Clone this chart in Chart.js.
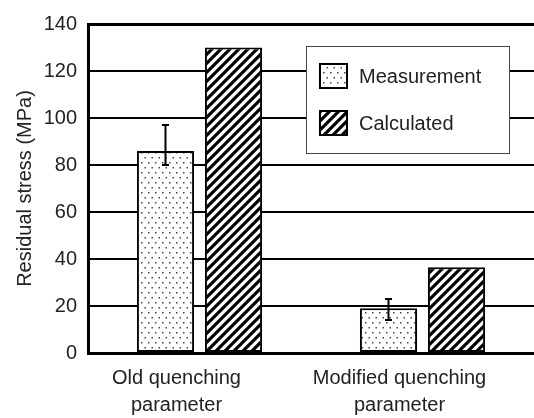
<!DOCTYPE html>
<html>
<head>
<meta charset="utf-8">
<script src="https://cdn.jsdelivr.net/npm/chart.js@4.4.1/dist/chart.umd.min.js"></script>
<style>
  html, body { margin: 0; padding: 0; background: #fff; }
  #wrap { width: 534px; height: 418px; position: relative; }
</style>
</head>
<body>
<div id="wrap"><canvas id="stressChart"></canvas></div>
<script>
const CATEGORIES = [["Old quenching", "parameter"], ["Modified quenching", "parameter"]];
const SERIES_NAMES = ["Measurement", "Calculated"];
const MEASURED = [86, 19];
const MEASURED_ERR_LOW = [80, 14];
const MEASURED_ERR_HIGH = [97, 23];
const CALCULATED = [130, 36.5];
const Y_TICKS = [0, 20, 40, 60, 80, 100, 120, 140];

const FONT = "'Liberation Sans', Arial, sans-serif";
const TEXT_COLOR = "#222";

//============================
// Fill patterns
//============================

function dotPattern() {
  var c = document.createElement("canvas");
  c.width = 7;
  c.height = 10;
  var g = c.getContext("2d");
  g.fillStyle = "#fff";
  g.fillRect(0, 0, 7, 10);
  g.fillStyle = "#444";
  g.fillRect(1, 2, 1.5, 1.5);
  g.fillRect(4.5, 7, 1.5, 1.5);
  return g.createPattern(c, "repeat");
}

function hatchPattern() {
  var s = 9;
  var c = document.createElement("canvas");
  c.width = s;
  c.height = s;
  var g = c.getContext("2d");
  g.fillStyle = "#fff";
  g.fillRect(0, 0, s, s);
  g.strokeStyle = "#000";
  g.lineWidth = 3.2;
  g.beginPath();
  g.moveTo(-1, s + 1);
  g.lineTo(s + 1, -1);
  g.moveTo(-2, 2);
  g.lineTo(2, -2);
  g.moveTo(s - 2, s + 2);
  g.lineTo(s + 2, s - 2);
  g.stroke();
  return g.createPattern(c, "repeat");
}

const DOTS = dotPattern();
const HATCH = hatchPattern();

//============================
// Plugins
//============================

const errorBars = {
  id: "errorBars",
  afterDatasetsDraw(chart) {
    var meta = chart.getDatasetMeta(0);
    var y = chart.scales.y;
    var ctx = chart.ctx;
    ctx.save();
    ctx.strokeStyle = "#000";
    ctx.lineWidth = 2;
    for (let i = 0; i < meta.data.length; i++) {
      var x = meta.data[i].x;
      var top = y.getPixelForValue(MEASURED_ERR_HIGH[i]);
      var bot = y.getPixelForValue(MEASURED_ERR_LOW[i]);
      ctx.beginPath();
      ctx.moveTo(x, top);
      ctx.lineTo(x, bot);
      ctx.moveTo(x - 3.5, top);
      ctx.lineTo(x + 3.5, top);
      ctx.moveTo(x - 3.5, bot);
      ctx.lineTo(x + 3.5, bot);
      ctx.stroke();
    }
    ctx.restore();
  },
};

const boxLegend = {
  id: "boxLegend",
  afterDraw(chart) {
    var ctx = chart.ctx;
    var fills = [DOTS, HATCH];
    ctx.save();
    ctx.fillStyle = "#fff";
    ctx.fillRect(306, 46, 203, 107);
    ctx.strokeStyle = "#444";
    ctx.lineWidth = 1;
    ctx.strokeRect(306.5, 46.5, 203, 107);
    ctx.font = "20px " + FONT;
    ctx.textBaseline = "middle";
    chart.data.datasets.forEach(function (ds, i) {
      var top = 64 + i * 47;
      ctx.fillStyle = fills[i];
      ctx.fillRect(320, top, 27, 24);
      ctx.strokeStyle = "#000";
      ctx.lineWidth = 2;
      ctx.strokeRect(320, top, 27, 24);
      ctx.fillStyle = TEXT_COLOR;
      ctx.fillText(ds.label, 359, top + 13);
    });
    ctx.restore();
  },
};

//============================
// Chart
//============================

var data = {
  labels: CATEGORIES,
  datasets: [
    {
      label: SERIES_NAMES[0],
      data: MEASURED,
      backgroundColor: DOTS,
      borderColor: "#000",
      borderWidth: 2,
      borderSkipped: false,
    },
    {
      label: SERIES_NAMES[1],
      data: CALCULATED,
      backgroundColor: HATCH,
      borderColor: "#000",
      borderWidth: 2,
      borderSkipped: false,
    },
  ],
};

var config = {
  type: "bar",
  data: data,
  options: {
    responsive: true,
    maintainAspectRatio: false,
    animation: false,
    categoryPercentage: 0.61,
    barPercentage: 0.84,
    layout: { padding: { top: 24, right: 0, bottom: 0, left: 0 } },
    plugins: {
      legend: { display: false },
      tooltip: { enabled: false },
    },
    scales: {
      x: {
        grid: { display: false, drawTicks: false },
        border: { display: true, color: "#000", width: 3 },
        ticks: {
          color: TEXT_COLOR,
          font: { family: FONT, size: 20, lineHeight: 1.35 },
          padding: 12,
          labelOffset: -23,
          maxRotation: 0,
        },
        afterFit: function (scale) {
          scale.height = 65;
        },
      },
      y: {
        min: 0,
        max: 140,
        afterBuildTicks: function (scale) {
          scale.ticks = Y_TICKS.map(function (v) {
            return { value: v };
          });
        },
        grid: {
          color: "#000",
          lineWidth: function (c) {
            return c.tick && c.tick.value === 140 ? 3 : 2;
          },
          drawTicks: false,
        },
        border: { display: true, color: "#000", width: 3 },
        ticks: {
          color: TEXT_COLOR,
          font: { family: FONT, size: 20 },
          padding: 11,
        },
        title: {
          display: true,
          text: "Residual stress (MPa)",
          color: TEXT_COLOR,
          font: { family: FONT, size: 20 },
          padding: { top: 13, bottom: 0 },
        },
        afterFit: function (scale) {
          scale.width = 88;
        },
      },
    },
  },
  plugins: [errorBars, boxLegend],
};

new Chart(document.getElementById("stressChart"), config);
</script>
</body>
</html>
